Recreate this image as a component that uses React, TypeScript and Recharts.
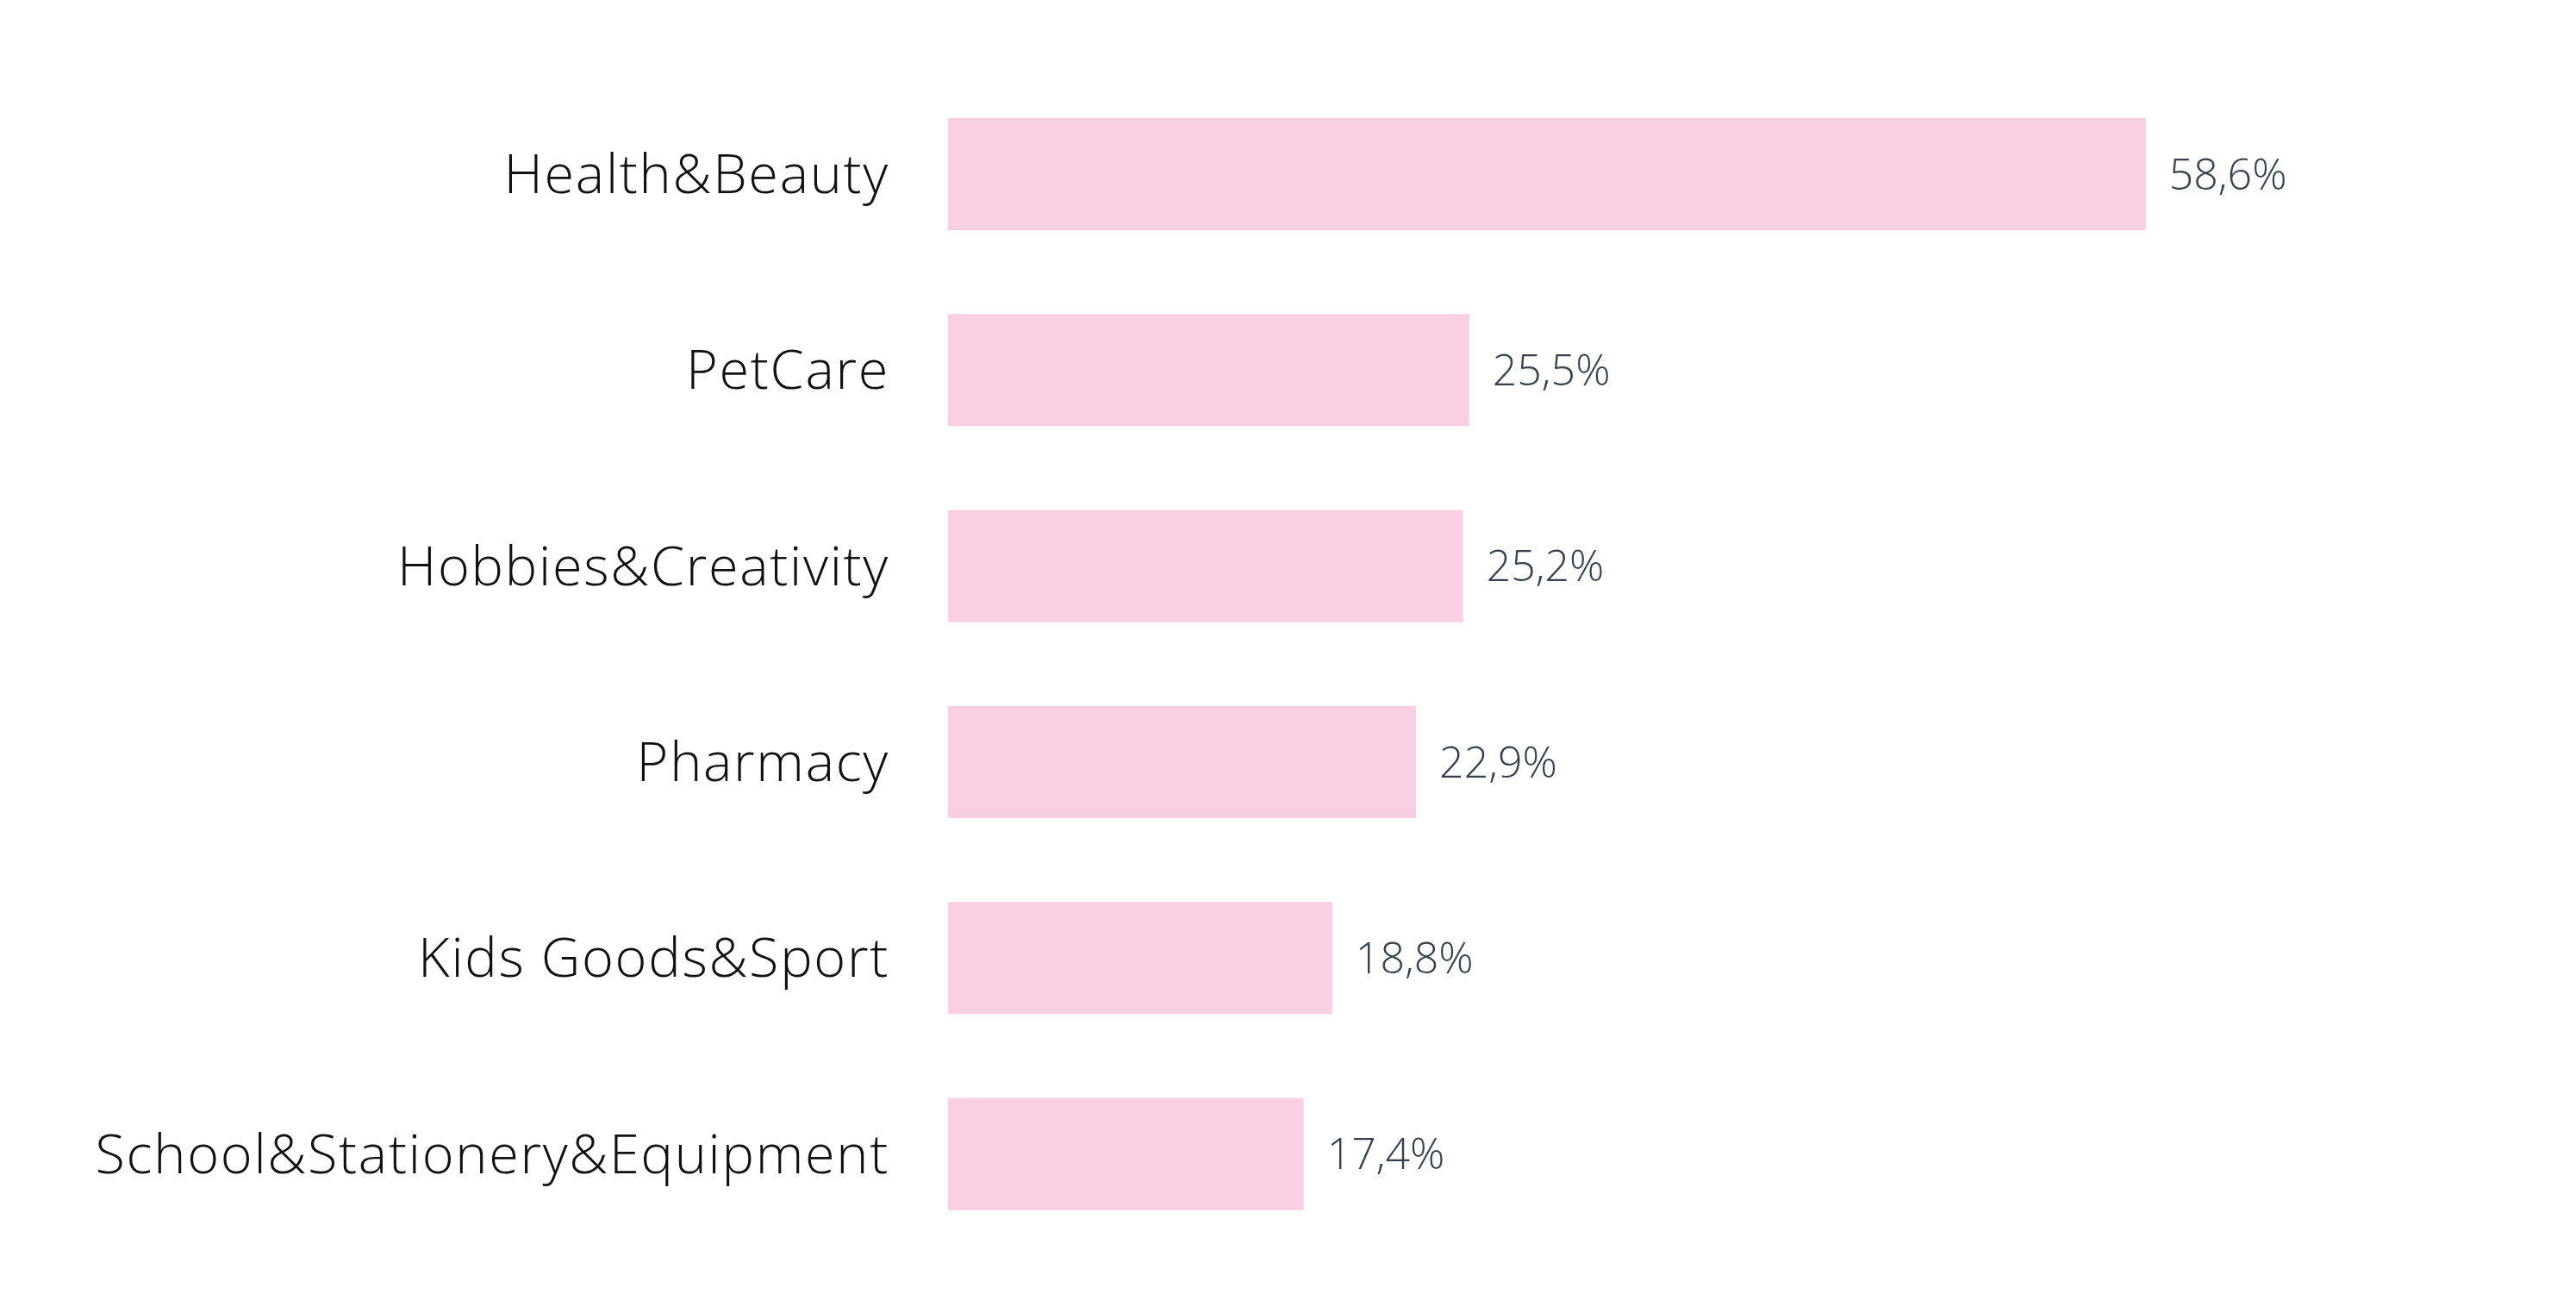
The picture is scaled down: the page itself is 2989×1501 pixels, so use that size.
import React from 'react';
import { BarChart, Bar, XAxis, YAxis, LabelList } from 'recharts';

const categories = [
  'Health&Beauty',
  'PetCare',
  'Hobbies&Creativity',
  'Pharmacy',
  'Kids Goods&Sport',
  'School&Stationery&Equipment',
];
const shares = [58.6, 25.5, 25.2, 22.9, 18.8, 17.4];

const data = categories.map((name, i) => ({ name, value: shares[i] }));

const fmt = (v: any) => Number(v).toFixed(1).replace('.', ',') + '%';

export default function App() {
  return (
    <div style={{ width: 2973, height: 1485, background: '#fff' }}>
      <BarChart
        width={2973}
        height={1485}
        data={data}
        layout="vertical"
        margin={{ top: 80, right: 458, bottom: 41, left: 0 }}
      >
        <XAxis type="number" domain={[0, 60]} hide />
        <YAxis
          type="category"
          dataKey="name"
          width={1092}
          axisLine={false}
          tickLine={false}
          tickSize={0}
          tickMargin={68}
          interval={0}
          tick={{ fontSize: 63, fill: '#111111', fontFamily: 'Open Sans', fontWeight: 300, letterSpacing: 1.7 }}
        />
        <Bar dataKey="value" fill="#FBCFE3" barSize={130} isAnimationActive={false}>
          <LabelList
            dataKey="value"
            position="right"
            offset={27}
            formatter={fmt}
            style={{ fontSize: 50, fill: '#34414F', fontFamily: 'Open Sans', fontWeight: 300 }}
          />
        </Bar>
      </BarChart>
    </div>
  );
}
